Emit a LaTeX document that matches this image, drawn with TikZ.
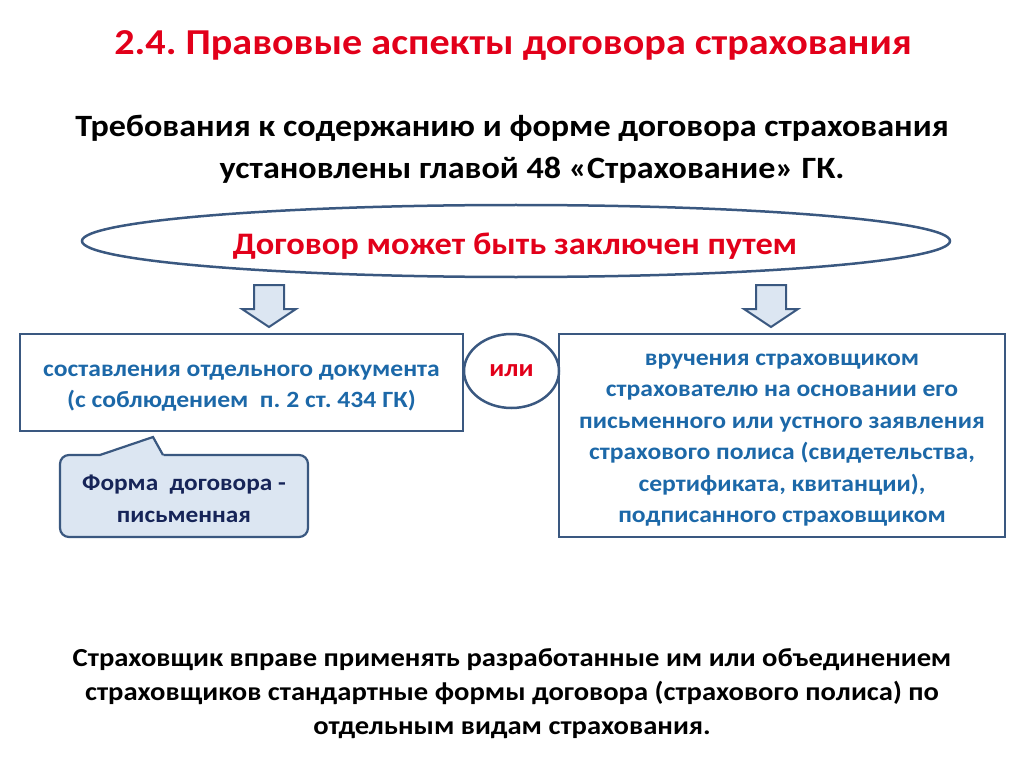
\documentclass[tikz,border=0pt]{standalone}
\usepackage{fontspec}
\setmainfont{Carlito}[FakeStretch=1.1]
\usetikzlibrary{shapes.geometric}
\definecolor{titlered}{RGB}{226,0,26}
\definecolor{textblue}{RGB}{28,104,168}
\definecolor{frame}{RGB}{58,88,128}
\definecolor{paleblue}{RGB}{220,230,242}
\definecolor{navy}{RGB}{22,36,88}
\tikzstyle{title}=[text=titlered, font=\bfseries\fontsize{36.5}{44}\selectfont]
\tikzstyle{heading}=[font=\bfseries\fontsize{31}{42}\selectfont, align=center]
\tikzstyle{oval}=[ellipse, draw=frame, line width=2.5pt, inner sep=0pt]
\tikzstyle{box}=[rectangle, draw=frame, line width=2.2pt, inner sep=0pt]
\tikzstyle{boxtext}=[text=textblue, align=center, font=\bfseries\fontsize{23.3}{31.5}\selectfont]
\tikzstyle{callout}=[rectangle, rounded corners=9pt, draw=frame, fill=paleblue, line width=2.2pt, inner sep=0pt]
\tikzstyle{callouttext}=[text=navy, align=center, font=\bfseries\fontsize{23}{32}\selectfont]
\tikzstyle{blockarrow}=[draw=frame, fill=paleblue, line width=2pt, line join=miter]
\tikzstyle{footer}=[font=\bfseries\fontsize{26}{33}\selectfont, align=center]

\begin{document}
\frenchspacing
\begin{tikzpicture}[x=1pt, y=-1pt]
\useasboundingbox (0,0) rectangle (1024,767);
\draw (513,45) node[title] (T) {2.4. Правовые аспекты договора страхования};
\draw (512,128) node[heading] (H1) {Требования к содержанию и форме договора страхования};
\draw (532,170) node[heading] (H2) {установлены главой 48 «Страхование» ГК.};

\draw (516,241) node[oval, minimum width=868pt, minimum height=72pt] (E) {};
\draw (515,246) node[text=titlered, font=\bfseries\fontsize{31.3}{36}\selectfont] (Et) {Договор может быть заключен путем};

% block arrows under the oval
\draw[blockarrow] (254,285) -- (284,285) -- (284,309) -- (296,309) -- (269,327) -- (242,309) -- (254,309) -- cycle;
\draw[blockarrow] (756,285) -- (786,285) -- (786,309) -- (798,309) -- (771,327) -- (744,309) -- (756,309) -- cycle;

\draw (241.5,382.5) node[box, minimum width=443pt, minimum height=97pt] (L) {};
\draw (241.5,388) node[boxtext] (Lt) {составления отдельного документа\\(с соблюдением~ п. 2 ст. 434 ГК)};
\draw (511.5,371) node[oval, minimum width=95pt, minimum height=74pt, text=titlered, font=\bfseries\fontsize{24.5}{30}\selectfont] (OR) {или};
\draw (782,435.5) node[box, minimum width=446pt, minimum height=203pt] (R) {};
\draw (782,440) node[boxtext] (Rt) {вручения страховщиком\\страхователю на основании его\\письменного или устного заявления\\страхового полиса (свидетельства,\\сертификата, квитанции),\\подписанного страховщиком};

\draw (184,496) node[callout, minimum width=248pt, minimum height=82pt] (C) {};
\draw (184,499) node[callouttext] (Ct) {Форма~ договора -\\письменная};
\coordinate (tip) at (153,437);
\fill[paleblue] (100,458) -- (101,454) -- (tip) -- (163,454) -- (164,458) -- cycle;
\draw[frame, line width=2.2pt, line join=miter] (100,455) -- (tip) -- (163,455);

\draw (512,694) node[footer, font=\bfseries\fontsize{26}{34}\selectfont] (F) {Страховщик вправе применять разработанные им или объединением\\страховщиков стандартные формы договора (страхового полиса) по\\отдельным видам страхования.};
\end{tikzpicture}
\end{document}
